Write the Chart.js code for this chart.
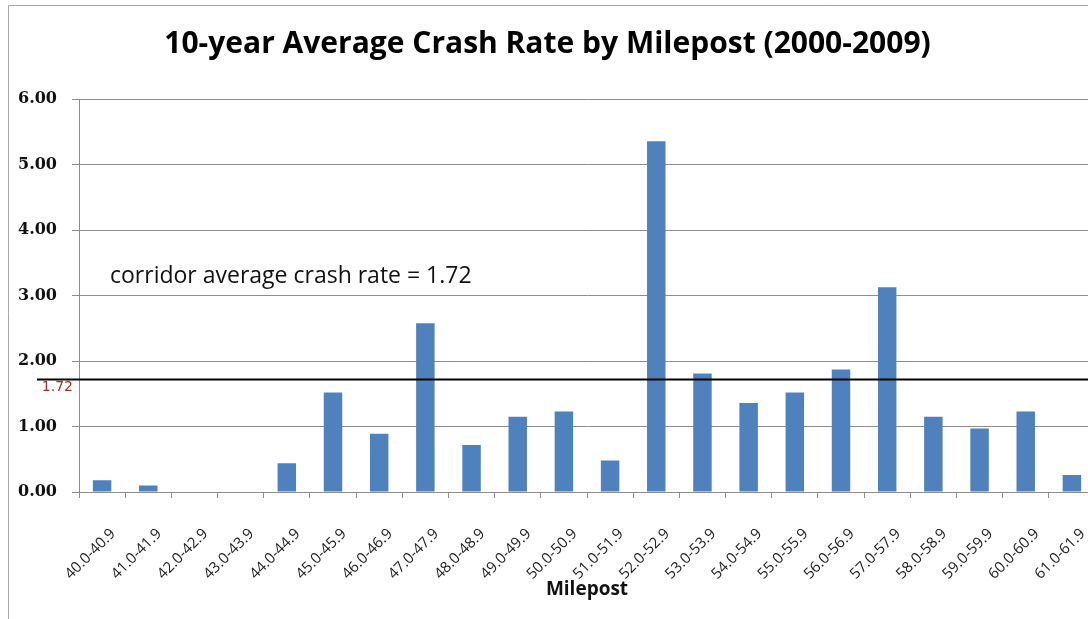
<!DOCTYPE html>
<html>
<head>
<meta charset="utf-8">
<style>
  html, body { margin: 0; padding: 0; background: #fff; overflow: hidden; }
  #wrap { position: relative; width: 1088px; height: 619px; overflow: hidden; }
  canvas { position: absolute; left: 0; top: 0; }
</style>
<script src="https://cdn.jsdelivr.net/npm/chart.js@4/dist/chart.umd.min.js"></script>
</head>
<body>
<div id="wrap"><canvas id="chart" width="1100" height="619"></canvas></div>
<script>
// Milepost segments along the corridor
const mileposts = [
  '40.0-40.9', '41.0-41.9', '42.0-42.9', '43.0-43.9', '44.0-44.9', '45.0-45.9',
  '46.0-46.9', '47.0-47.9', '48.0-48.9', '49.0-49.9', '50.0-50.9', '51.0-51.9',
  '52.0-52.9', '53.0-53.9', '54.0-54.9', '55.0-55.9', '56.0-56.9', '57.0-57.9',
  '58.0-58.9', '59.0-59.9', '60.0-60.9', '61.0-61.9'
];

// 10-year average crash rate per segment
const crashRates = [
  0.18, 0.10, 0.00, 0.00, 0.44, 1.52,
  0.89, 2.58, 0.72, 1.15, 1.23, 0.48,
  5.36, 1.81, 1.36, 1.52, 1.87, 3.13,
  1.15, 0.97, 1.23, 0.26
];

// Corridor-wide average
const corridorAverage = 1.72;

const yTicks = [0, 1, 2, 3, 4, 5, 6];

const GRID = '#8e8e8e';

const overlay = {
  id: 'overlay',
  beforeDraw(chart) {
    const ctx = chart.ctx;
    ctx.save();
    ctx.strokeStyle = '#a6a6a6';
    ctx.lineWidth = 1;
    ctx.beginPath();
    ctx.moveTo(8.5, 619);
    ctx.lineTo(8.5, 5.5);
    ctx.lineTo(1100, 5.5);
    ctx.stroke();
    ctx.restore();
  },
  afterDatasetsDraw(chart) {
    const ctx = chart.ctx;
    const y = chart.scales.y;
    const area = chart.chartArea;
    const yAvg = y.getPixelForValue(corridorAverage);
    ctx.save();
    // average line
    ctx.strokeStyle = '#000';
    ctx.lineWidth = 2;
    ctx.beginPath();
    ctx.moveTo(37, yAvg);
    ctx.lineTo(1100, yAvg);
    ctx.stroke();
    // value tag under the line
    ctx.fillStyle = '#b02a2a';
    ctx.font = '14px "DejaVu Sans"';
    ctx.textAlign = 'right';
    ctx.textBaseline = 'middle';
    ctx.fillText(corridorAverage.toFixed(2), area.left - 6, yAvg + 8);
    // annotation
    ctx.fillStyle = '#111';
    ctx.font = '23px "Open Sans"';
    ctx.textAlign = 'left';
    ctx.fillText('corridor average crash rate = ' + corridorAverage.toFixed(2),
      area.left + 31, y.getPixelForValue(3.3));
    ctx.restore();
  }
};

new Chart(document.getElementById('chart'), {
  type: 'bar',
  data: {
    labels: mileposts,
    datasets: [{
      data: crashRates,
      backgroundColor: '#4f81bd',
      borderWidth: 0,
      barPercentage: 0.4,
      categoryPercentage: 1.0
    }]
  },
  options: {
    responsive: false,
    devicePixelRatio: 1,
    animation: false,
    layout: { padding: { left: 0, right: 5, top: 0, bottom: 0 } },
    plugins: {
      legend: { display: false },
      tooltip: { enabled: false },
      title: {
        display: true,
        text: '10-year Average Crash Rate by Milepost (2000-2009)',
        color: '#000',
        font: { family: '"Open Sans"', size: 30, weight: 'bold', lineHeight: 1.2 },
        padding: { top: 26, bottom: 37.3 }
      }
    },
    scales: {
      x: {
        grid: {
          display: true,
          offset: true,
          drawOnChartArea: false,
          drawTicks: true,
          tickLength: 6,
          tickColor: GRID,
          color: GRID
        },
        border: { display: true, color: GRID, width: 1 },
        ticks: {
          autoSkip: false,
          maxRotation: 45,
          minRotation: 45,
          padding: 27,
          labelOffset: 11,
          color: '#222',
          font: { family: '"Open Sans"', size: 15 }
        },
        title: {
          display: true,
          text: 'Milepost',
          color: '#111',
          font: { family: '"Open Sans"', size: 19, weight: 'bold', lineHeight: 1.2 },
          padding: { top: 18, bottom: 18 }
        },
        afterFit(scale) {
          scale.height = 127;
          scale.paddingLeft = 0;
          scale.paddingRight = 0;
        }
      },
      y: {
        min: 0,
        max: 6,
        afterBuildTicks(scale) { scale.ticks = yTicks.map(v => ({ value: v })); },
        grid: {
          color: GRID,
          lineWidth: 1,
          drawTicks: true,
          tickLength: 7,
          tickColor: GRID
        },
        border: { display: true, color: GRID, width: 1 },
        ticks: {
          padding: 15,
          color: '#111',
          font: { family: '"DejaVu Serif"', size: 16, weight: 'bold' },
          callback: v => Number(v).toFixed(2)
        },
        afterFit(scale) { scale.width = 79; }
      }
    }
  },
  plugins: [overlay]
});
</script>
</body>
</html>
